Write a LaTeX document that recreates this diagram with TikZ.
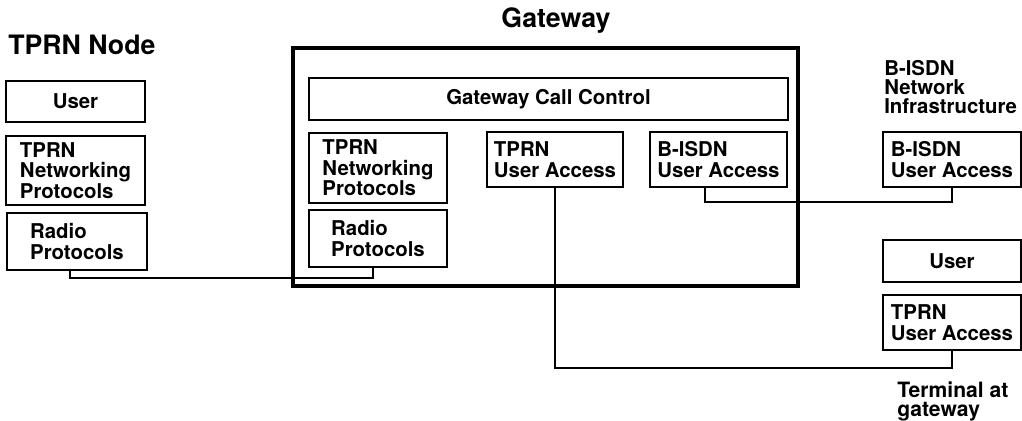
\documentclass[tikz,border=0pt]{standalone}
\usepackage{fontspec}
\setmainfont{TeX Gyre Heros}
\newcommand{\blkfont}{\fontsize{14.5}{14.5}\selectfont\bfseries}
\newcommand{\ttlfont}{\fontsize{19}{21}\selectfont\bfseries}
\newcommand{\notefont}{\fontsize{14.5}{13.5}\selectfont\bfseries}
\usetikzlibrary{positioning}

\begin{document}
\begin{tikzpicture}[
  blk/.style={draw,line width=1.3pt,inner sep=2pt,align=left,font=\blkfont,
    minimum width=3.45cm},
  frame/.style={draw,line width=2.6pt,inner sep=0pt},
  conn/.style={line width=1.3pt},
  ttl/.style={font=\ttlfont,inner sep=0pt},
  note/.style={font=\notefont,align=left,inner sep=0pt}
]
  \useasboundingbox (0,0) rectangle (25.55,10.5);

  % TPRN node
  \node[ttl,anchor=base west] (ttlA) at (0.2,9.125) {TPRN Node};
  \node[blk,minimum width=3.475cm,minimum height=1.025cm] (userA) at (1.8875,7.9625) {User};
  \node[blk,minimum width=3.475cm,minimum height=1.725cm] (netA) at (1.8875,6.2375) {TPRN\\Networking\\Protocols};
  \node[blk,minimum width=3.5cm,minimum height=1.425cm] (radioA) at (1.925,4.4625) {Radio\\Protocols};

  % Gateway
  \node[ttl,anchor=base] (ttlB) at (13.9,9.8) {Gateway};
  \node[frame,minimum width=12.625cm,minimum height=5.95cm] (gw) at (13.6375,6.325) {};
  \node[blk,minimum width=11.975cm,minimum height=1.05cm] (gcc) at (13.7125,8.025) {Gateway Call Control};
  \node[blk,minimum height=1.75cm] (netB) at (9.45,6.3) {TPRN\\Networking\\Protocols};
  \node[blk,minimum height=1.425cm] (radioB) at (9.45,4.5375) {Radio\\Protocols};
  \node[blk,minimum width=3.4cm,minimum height=1.375cm] (uaB) at (13.875,6.5125) {TPRN\\User Access};
  \node[blk,minimum width=3.425cm,minimum height=1.375cm] (bisdnB) at (17.9625,6.5125) {B-ISDN\\User Access};

  % B-ISDN side
  \node[note,anchor=north west] (ttlC) at (22.1,9.0) {B-ISDN\\Network\\Infrastructure};
  \node[blk,minimum height=1.375cm] (bisdnC) at (23.8,6.5125) {B-ISDN\\User Access};

  % Terminal at gateway
  \node[blk,minimum height=1.05cm] (userC) at (23.8,3.975) {User};
  \node[blk,minimum height=1.375cm] (uaC) at (23.8,2.4375) {TPRN\\User Access};
  \node[note,anchor=north west,font=\fontsize{15}{13.5}\selectfont\bfseries] (ttlD) at (22.425,0.95) {Terminal at\\gateway};

  % Links
  \draw[conn] ([xshift=-1.75mm]radioA.south) -- ++(0,-0.175) -| ([xshift=-1.25mm]radioB.south);
  \draw[conn] ([xshift=-3.4mm]bisdnB.south) -- ++(0,-0.35) -| (bisdnC.south);
  \draw[conn] (uaB.south) |- ([yshift=-4.25mm]uaC.south) -- (uaC.south);
\end{tikzpicture}
\end{document}
